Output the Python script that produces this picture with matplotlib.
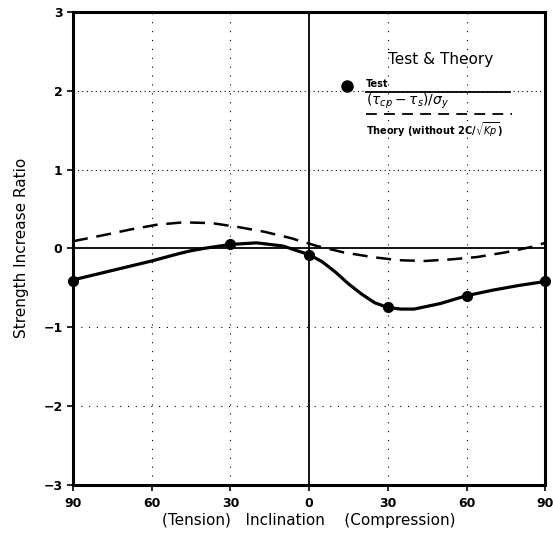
#!/usr/bin/env python3
"""Strength increase ratio vs inclination - test & theory"""
import matplotlib
matplotlib.use('Agg')
import matplotlib.pyplot as plt

# Test points (x: -90 = tension side, +90 = compression side)
test_x = [-90, -30, 0, 30, 60, 90]
test_y = [-0.41, 0.05, -0.08, -0.75, -0.60, -0.42]

# Fitted curve through test points
fit_x = [-90, -80, -70, -60, -50, -45, -40, -30, -20, -10, 0, 5, 10, 15, 20, 25, 30,
         35, 40, 50, 60, 70, 80, 90]
fit_y = [-0.40, -0.32, -0.24, -0.16, -0.07, -0.03, 0.00, 0.05, 0.07, 0.03, -0.08, -0.17,
         -0.30, -0.45, -0.58, -0.69, -0.75, -0.77, -0.77, -0.70, -0.60, -0.53, -0.47, -0.42]

# Theory (without 2C/sqrt(Kp))
theory_x = [-90, -78, -68, -58, -48, -37, -27, -17, -7, 3, 13, 24, 34, 44, 54, 64, 75, 85, 90]
theory_y = [0.09, 0.17, 0.24, 0.30, 0.33, 0.32, 0.27, 0.21, 0.13, 0.03, -0.05, -0.11,
            -0.15, -0.16, -0.14, -0.11, -0.05, 0.02, 0.07]

xticks = [-90, -60, -30, 0, 30, 60, 90]
xticklabels = ['90', '60', '30', '0', '30', '60', '90']
yticks = [-3, -2, -1, 0, 1, 2, 3]

fig = plt.figure(figsize=(5.53, 5.37), dpi=100)
ax = fig.add_axes([0.132, 0.097, 0.854, 0.881])

# grid
for g in [1, 2]:
    ax.axhline(g, color='black', lw=0.8, ls=(0, (1, 3)), zorder=1)
for g in [-2, -1]:
    ax.axhline(g, color='black', lw=0.8, ls=(0, (1, 6)), zorder=1)
for g in [-60, -30, 30, 60]:
    ax.axvline(g, color='black', lw=0.8, ls=(0, (1, 7)), zorder=1)
ax.axhline(0, color='black', lw=1.3, zorder=2)
ax.axvline(0, color='black', lw=1.3, zorder=2)

ax.plot(theory_x, theory_y, color='black', lw=1.8, ls=(0, (6, 3.5)), zorder=3)
ax.plot(fit_x, fit_y, color='black', lw=2.3, zorder=3)
ax.plot(test_x, test_y, 'o', color='black', ms=7, zorder=4, clip_on=False)

ax.set_xlim(-90, 90)
ax.set_ylim(-3, 3)
ax.set_xticks(xticks)
ax.set_xticklabels(xticklabels, fontweight='bold', fontsize=9)
ax.set_yticks(yticks)
ax.set_yticklabels(['\u22123', '\u22122', '\u22121', '0', '1', '2', '3'],
                   fontweight='bold', fontsize=9)
ax.tick_params(direction='out', length=4, width=1.2)
ax.tick_params(axis='x', pad=5)
for s in ax.spines.values():
    s.set_linewidth(2.2)

ax.set_ylabel('Strength Increase Ratio', fontsize=11, labelpad=10)
ax.set_xlabel('(Tension)   Inclination    (Compression)', fontsize=11, labelpad=2)

# legend block drawn by hand
def ax_xy(px, py):
    return (px - 73) / 472.0, (485 - py) / 473.0

tx = ax.transAxes
x0, y0 = ax_xy(440, 60)
ax.text(x0, y0, 'Test & Theory', transform=tx, ha='center', va='center', fontsize=11)
mx, my = ax_xy(347, 86)
ax.plot([mx], [my], 'o', color='black', ms=8, transform=tx)
lx, ly = ax_xy(366, 84)
ax.text(lx, ly, 'Test', transform=tx, ha='left', va='center', fontsize=7,
        fontweight='bold')
a, b = ax_xy(366, 92)
c, _ = ax_xy(510, 92)
ax.plot([a, c], [b, b], color='black', lw=1.3, transform=tx)
lx, ly = ax_xy(366, 102)
ax.text(lx, ly, r'$(\tau_{cp} - \tau_s)/\sigma_y$', transform=tx, ha='left',
        va='center', fontsize=10)
a, b = ax_xy(366, 114)
c, _ = ax_xy(512, 114)
ax.plot([a, c], [b, b], color='black', lw=1.3, ls=(0, (6, 4)), transform=tx)
lx, ly = ax_xy(366, 130)
ax.text(lx, ly, r'Theory (without 2C/$\sqrt{Kp}$)', transform=tx, ha='left',
        va='center', fontsize=7, fontweight='bold')

plt.savefig('out.png', dpi=100)
plt.close()
